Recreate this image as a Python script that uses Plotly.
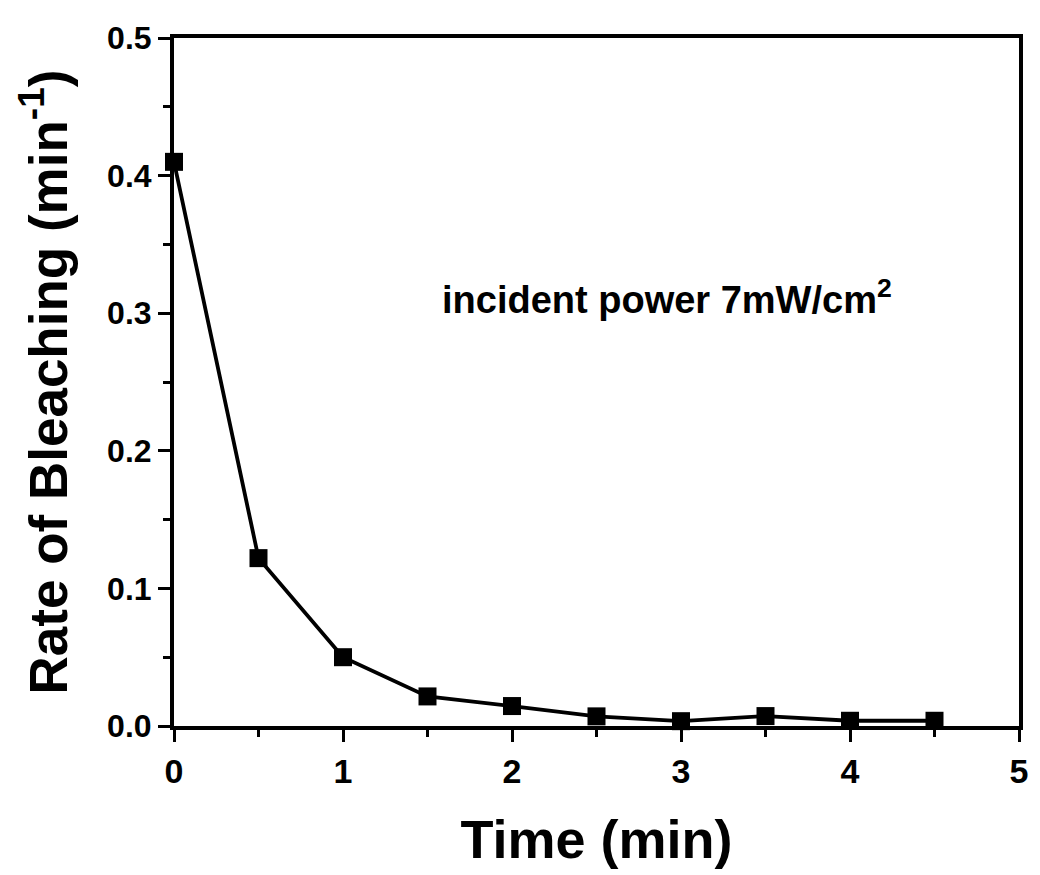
import plotly.graph_objects as go

time_min = [0, 0.5, 1, 1.5, 2, 2.5, 3, 3.5, 4, 4.5]
rate = [0.41, 0.122, 0.050, 0.0215, 0.0145, 0.0070, 0.0035, 0.0072, 0.0038, 0.0038]
x_ticks = [0, 1, 2, 3, 4, 5]
y_ticks = [0.0, 0.1, 0.2, 0.3, 0.4, 0.5]
y_tick_labels = ["0.0", "0.1", "0.2", "0.3", "0.4", "0.5"]

FONT = "Arial, Liberation Sans, sans-serif"

fig = go.Figure()
fig.add_trace(go.Scatter(
    x=time_min, y=rate, mode="lines+markers",
    line=dict(color="black", width=3.8),
    marker=dict(symbol="square", size=18, color="black"),
    cliponaxis=False, showlegend=False,
))

fig.add_annotation(
    x=2.92, y=0.312, xref="x", yref="y",
    text="<b>incident power 7mW/cm<sup>2</sup></b>",
    showarrow=False, font=dict(family=FONT, size=38, color="black"),
)

axis_common = dict(
    showline=True, linecolor="black", linewidth=4, mirror=True,
    ticks="outside", ticklen=12, tickwidth=3, tickcolor="black",
    showgrid=False, zeroline=False,
)

fig.update_xaxes(
    range=[0, 5], tickvals=x_ticks, ticktext=[f"<b>{v}</b>" for v in x_ticks],
    tickfont=dict(family=FONT, size=34, color="black"),
    title=dict(text="<b>Time (min)</b>", font=dict(family=FONT, size=54, color="black"), standoff=32),
    minor=dict(dtick=0.5, ticks="outside", ticklen=7, tickwidth=3, tickcolor="black"),
    **axis_common,
)
fig.update_yaxes(
    range=[0, 0.5], tickvals=y_ticks, ticktext=[f"<b>{t}</b>" for t in y_tick_labels],
    tickfont=dict(family=FONT, size=32, color="black"),
    title=dict(text="<b>Rate of Bleaching (min<sup>-1</sup>)</b>", font=dict(family=FONT, size=53, color="black"), standoff=24),
    minor=dict(dtick=0.05, ticks="outside", ticklen=7, tickwidth=3, tickcolor="black"),
    **axis_common,
)

# page body adds an 8px margin; size the figure so the plot frame lands where the reference has it
fig.update_layout(
    width=1032, height=867,
    margin=dict(l=166, r=14, t=24, b=149),
    paper_bgcolor="white", plot_bgcolor="white",
)

fig.write_html("out.html")
